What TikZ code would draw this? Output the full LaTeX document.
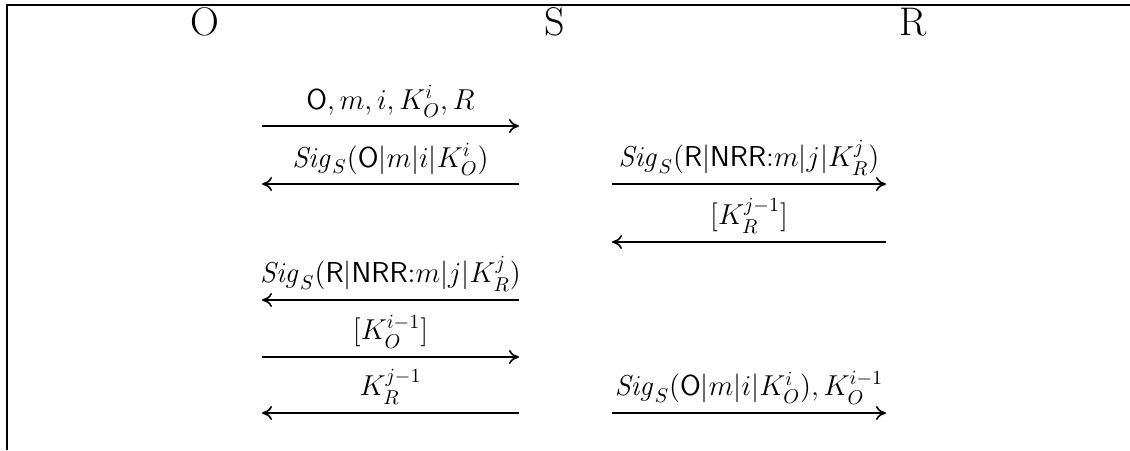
\documentclass[tikz,border=0pt]{standalone}
\usepackage{amsmath}
\usetikzlibrary{arrows.meta}
\begin{document}
\begin{tikzpicture}[x=0.5pt,y=-0.5pt,
  party/.style={font=\fontsize{20}{24}\selectfont, inner sep=0pt},
  msg/.style={line width=0.8pt, -{To[length=5pt,width=7pt]}},
  lbl/.style={above, font=\fontsize{14}{17}\selectfont, inner sep=4pt},
  frame/.style={line width=0.9pt}]
\useasboundingbox (0,0) rectangle (1130,450);
% frame
\coordinate (tl) at (7,5);
\coordinate (tr) at (1130,5);
\coordinate (bl) at (7,450);
\draw[frame] (bl) -- (tl) -- (tr);
% parties
\node[party] (O) at (205,22) {O};
\node[party] (S) at (555,22) {S};
\node[party] (R) at (913,22) {R};
% endpoints
\coordinate (a1l) at (262,126); \coordinate (a1r) at (519,126);
\coordinate (a2l) at (262,184); \coordinate (a2r) at (519,184);
\coordinate (b1l) at (612,184); \coordinate (b1r) at (886,184);
\coordinate (b2l) at (612,242); \coordinate (b2r) at (886,242);
\coordinate (a3l) at (262,300); \coordinate (a3r) at (519,300);
\coordinate (a4l) at (262,357); \coordinate (a4r) at (519,357);
\coordinate (a5l) at (262,413); \coordinate (a5r) at (519,413);
\coordinate (b3l) at (612,413); \coordinate (b3r) at (886,413);
% messages
\draw[msg] (a1l) -- node[lbl] {$\mathsf{O}, m, i, K_O^i, R$} (a1r);
\draw[msg] (a2r) -- node[lbl] {$\mathit{Sig}_S(\mathsf{O}|m|i|K_O^i)$} (a2l);
\draw[msg] (b1l) -- node[lbl] {$\mathit{Sig}_S(\mathsf{R}|\mathsf{NRR}{:}m|j|K_R^j)$} (b1r);
\draw[msg] (b2r) -- node[lbl] {$[K_R^{j-1}]$} (b2l);
\draw[msg] (a3r) -- node[lbl] {$\mathit{Sig}_S(\mathsf{R}|\mathsf{NRR}{:}m|j|K_R^j)$} (a3l);
\draw[msg] (a4l) -- node[lbl] {$[K_O^{i-1}]$} (a4r);
\draw[msg] (a5r) -- node[lbl] {$K_R^{j-1}$} (a5l);
\draw[msg] (b3l) -- node[lbl] {$\mathit{Sig}_S(\mathsf{O}|m|i|K_O^i), K_O^{i-1}$} (b3r);
\end{tikzpicture}
\end{document}
